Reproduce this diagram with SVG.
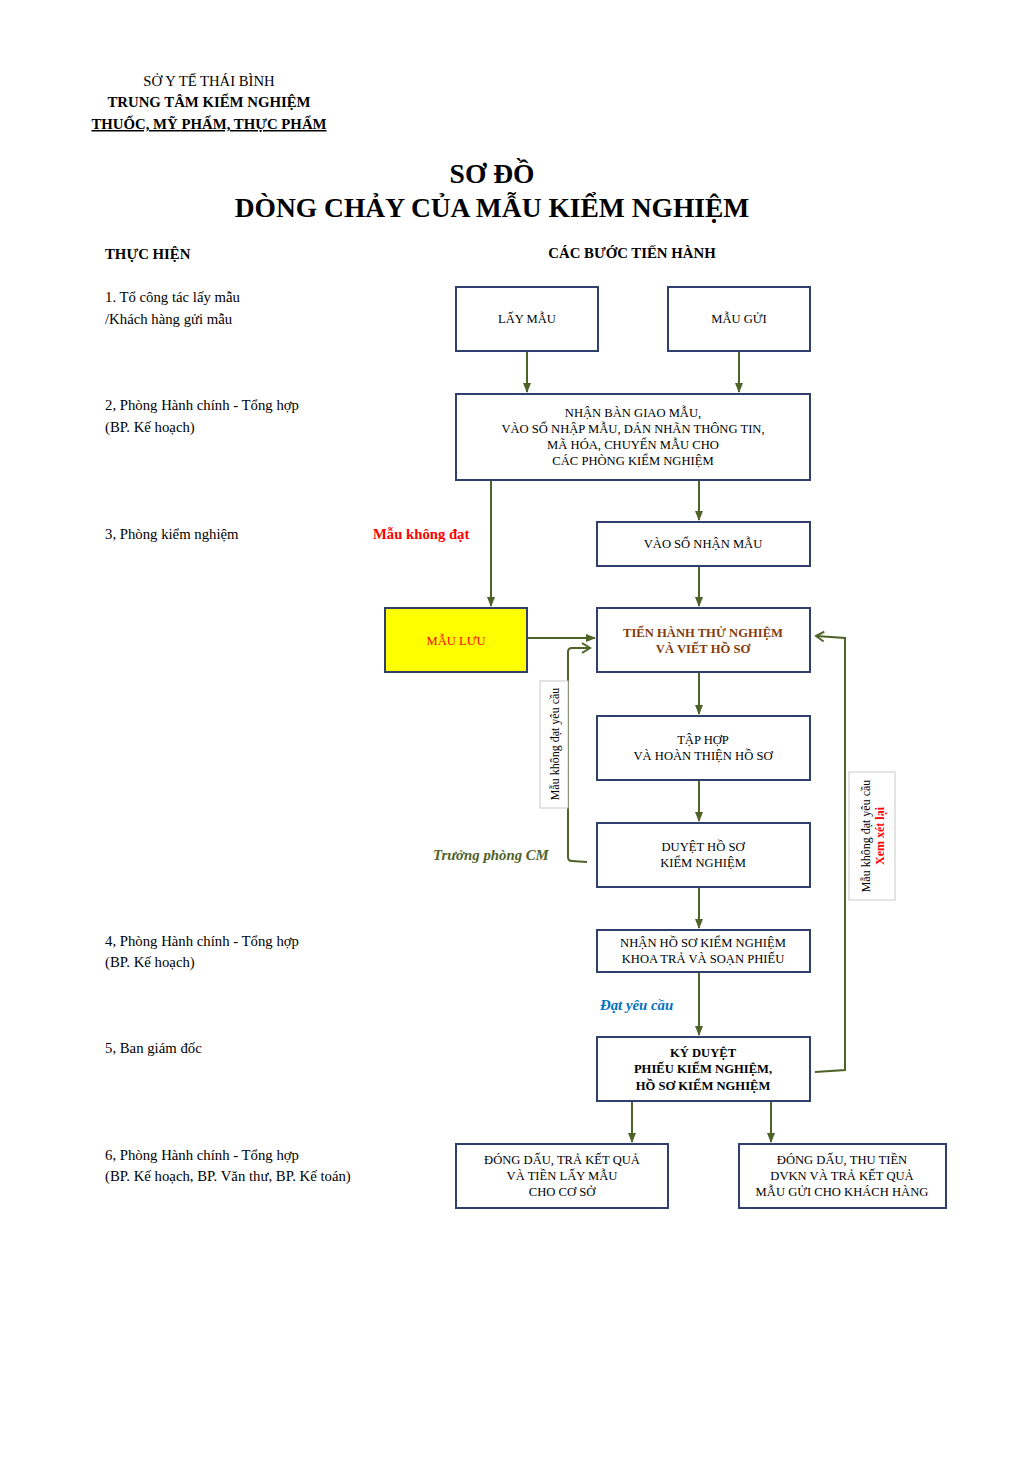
<svg xmlns="http://www.w3.org/2000/svg" width="1031" height="1457" viewBox="0 0 1031 1457">
<defs>
<style>
text{font-family:"Liberation Serif","Times New Roman",serif;fill:#000}
.h{font-size:14.7px}
.hb{font-size:14.8px;font-weight:bold}
.t{font-size:27.5px;font-weight:bold}
.l{font-size:14.75px}
.bx{fill:#fff;stroke:#2f3f6e;stroke-width:2}
.bt{font-size:12.6px;text-anchor:middle}
.bb{font-size:12.6px;text-anchor:middle;font-weight:bold}
.c{fill:none;stroke:#4f6228;stroke-width:2}
.rb{fill:#fff;stroke:#c8c8c8;stroke-width:1}
</style>
<marker id="ah" viewBox="0 0 10 10" refX="9" refY="5" markerWidth="5" markerHeight="5" orient="auto" markerUnits="strokeWidth">
<path d="M0,1 L10,5 L0,9 z" fill="#4f6228"/>
</marker>
<marker id="ao" viewBox="0 0 12 12" refX="10" refY="6" markerWidth="6" markerHeight="6" orient="auto" markerUnits="strokeWidth">
<path d="M2,1 L10,6 L2,11" fill="none" stroke="#4f6228" stroke-width="2"/>
</marker>
</defs>
<rect width="1031" height="1457" fill="#fff"/>

<g id="header">
<text class="h" x="209" y="86" text-anchor="middle">SỞ Y TẾ THÁI BÌNH</text>
<text class="hb" x="209" y="107" text-anchor="middle">TRUNG TÂM KIỂM NGHIỆM</text>
<text class="hb" x="209" y="129" text-anchor="middle" text-decoration="underline">THUỐC, MỸ PHẨM, THỰC PHẨM</text>
<text class="t" x="492" y="183" text-anchor="middle">SƠ ĐỒ</text>
<text class="t" x="492" y="217" text-anchor="middle">DÒNG CHẢY CỦA MẪU KIỂM NGHIỆM</text>
<text class="hb" x="105" y="259">THỰC HIỆN</text>
<text class="hb" x="632" y="258" text-anchor="middle">CÁC BƯỚC TIẾN HÀNH</text>
</g>

<g id="left-labels">
<text class="l" x="105" y="302">1. Tổ công tác lấy mẫu</text>
<text class="l" x="105" y="324">/Khách hàng gửi mẫu</text>
<text class="l" x="105" y="410">2, Phòng Hành chính - Tổng hợp</text>
<text class="l" x="105" y="432">(BP. Kế hoạch)</text>
<text class="l" x="105" y="539">3, Phòng kiểm nghiệm</text>
<text class="l" x="105" y="946">4, Phòng Hành chính - Tổng hợp</text>
<text class="l" x="105" y="967">(BP. Kế hoạch)</text>
<text class="l" x="105" y="1053">5, Ban giám đốc</text>
<text class="l" x="105" y="1160">6, Phòng Hành chính - Tổng hợp</text>
<text class="l" x="105" y="1181">(BP. Kế hoạch, BP. Văn thư, BP. Kế toán)</text>
</g>

<g id="connectors">
<line class="c" x1="527" y1="352" x2="527" y2="392" marker-end="url(#ah)"/>
<line class="c" x1="739" y1="352" x2="739" y2="392" marker-end="url(#ah)"/>
<line class="c" x1="491" y1="481" x2="491" y2="606" marker-end="url(#ah)"/>
<line class="c" x1="699" y1="481" x2="699" y2="520" marker-end="url(#ah)"/>
<line class="c" x1="699" y1="567" x2="699" y2="606" marker-end="url(#ah)"/>
<line class="c" x1="528" y1="638" x2="595" y2="638" marker-end="url(#ah)"/>
<path class="c" d="M587,862 L572,861 Q568,861 568,857 L568,652 Q568,648 572,648 L590,648" marker-end="url(#ao)"/>
<line class="c" x1="699" y1="673" x2="699" y2="714" marker-end="url(#ah)"/>
<line class="c" x1="699" y1="781" x2="699" y2="821" marker-end="url(#ah)"/>
<line class="c" x1="699" y1="888" x2="699" y2="928" marker-end="url(#ah)"/>
<line class="c" x1="699" y1="973" x2="699" y2="1035" marker-end="url(#ah)"/>
<path class="c" d="M815,1072 L845,1070 L845,638 L816,636" marker-end="url(#ao)"/>
<line class="c" x1="632" y1="1102" x2="632" y2="1142" marker-end="url(#ah)"/>
<line class="c" x1="771" y1="1102" x2="771" y2="1142" marker-end="url(#ah)"/>
</g>

<g id="lay-mau">
<rect class="bx" x="456" y="287" width="142" height="64"/>
<text class="bt" x="527" y="323">LẤY MẪU</text>
</g>
<g id="mau-gui">
<rect class="bx" x="668" y="287" width="142" height="64"/>
<text class="bt" x="739" y="323">MẪU GỬI</text>
</g>
<g id="nhan-ban-giao">
<rect class="bx" x="456" y="394" width="354" height="86"/>
<text class="bt" x="633" y="417">NHẬN BÀN GIAO MẪU,</text>
<text class="bt" x="633" y="433">VÀO SỔ NHẬP MẪU, DÁN NHÃN THÔNG TIN,</text>
<text class="bt" x="633" y="449">MÃ HÓA, CHUYỂN MẪU CHO</text>
<text class="bt" x="633" y="465">CÁC PHÒNG KIỂM NGHIỆM</text>
</g>
<g id="vao-so-nhan-mau">
<rect class="bx" x="597" y="522" width="213" height="44"/>
<text class="bt" x="703" y="548">VÀO SỔ NHẬN MẪU</text>
</g>
<g id="mau-luu">
<rect x="385" y="608" width="142" height="64" fill="#ffff00" stroke="#2f3f6e" stroke-width="2"/>
<text class="bt" x="456" y="645" style="fill:#ff0000">MẪU LƯU</text>
</g>
<g id="tien-hanh">
<rect class="bx" x="597" y="608" width="213" height="64"/>
<text class="bb" x="703" y="637" style="fill:#843c0c">TIẾN HÀNH THỬ NGHIỆM</text>
<text class="bb" x="703" y="653" style="fill:#843c0c">VÀ VIẾT HỒ SƠ</text>
</g>
<g id="tap-hop">
<rect class="bx" x="597" y="716" width="213" height="64"/>
<text class="bt" x="703" y="744">TẬP HỢP</text>
<text class="bt" x="703" y="760">VÀ HOÀN THIỆN HỒ SƠ</text>
</g>
<g id="duyet-ho-so">
<rect class="bx" x="597" y="823" width="213" height="64"/>
<text class="bt" x="703" y="851">DUYỆT HỒ SƠ</text>
<text class="bt" x="703" y="867">KIỂM NGHIỆM</text>
</g>
<g id="nhan-ho-so">
<rect class="bx" x="597" y="930" width="213" height="42"/>
<text class="bt" x="703" y="947">NHẬN HỒ SƠ KIỂM NGHIỆM</text>
<text class="bt" x="703" y="963">KHOA TRẢ VÀ SOẠN PHIẾU</text>
</g>
<g id="ky-duyet">
<rect class="bx" x="597" y="1037" width="213" height="64"/>
<text class="bb" x="703" y="1057">KÝ DUYỆT</text>
<text class="bb" x="703" y="1073">PHIẾU KIỂM NGHIỆM,</text>
<text class="bb" x="703" y="1090">HỒ SƠ KIỂM NGHIỆM</text>
</g>
<g id="dong-dau-co-so">
<rect class="bx" x="456" y="1144" width="212" height="64"/>
<text class="bt" x="562" y="1164">ĐÓNG DẤU, TRẢ KẾT QUẢ</text>
<text class="bt" x="562" y="1180">VÀ TIỀN LẤY MẪU</text>
<text class="bt" x="562" y="1196">CHO CƠ SỞ</text>
</g>
<g id="dong-dau-khach-hang">
<rect class="bx" x="739" y="1144" width="207" height="64"/>
<text class="bt" x="842" y="1164">ĐÓNG DẤU, THU TIỀN</text>
<text class="bt" x="842" y="1180">DVKN VÀ TRẢ KẾT QUẢ</text>
<text class="bt" x="842" y="1196">MẪU GỬI CHO KHÁCH HÀNG</text>
</g>

<g id="labels">
<text x="373" y="539" style="font-size:14.7px;font-weight:bold;fill:#ff0000">Mẫu không đạt</text>
<text x="433" y="860" style="font-size:14.8px;font-weight:bold;font-style:italic;fill:#4f6228">Trưởng phòng CM</text>
<text x="600" y="1010" style="font-size:14.8px;font-weight:bold;font-style:italic;fill:#0070c0">Đạt yêu cầu</text>
</g>

<g id="note-left">
<rect class="rb" x="540" y="681" width="28" height="127"/>
<text x="0" y="0" transform="translate(559,744) rotate(-90)" text-anchor="middle" style="font-size:12px">Mẫu không đạt yêu cầu</text>
</g>
<g id="note-right">
<rect class="rb" x="849" y="772" width="46" height="128"/>
<text x="0" y="0" transform="translate(870,836) rotate(-90)" text-anchor="middle" style="font-size:12px">Mẫu không đạt yêu cầu</text>
<text x="0" y="0" transform="translate(884,836) rotate(-90)" text-anchor="middle" style="font-size:12px;font-weight:bold;fill:#ff0000">Xem xét lại</text>
</g>
</svg>
